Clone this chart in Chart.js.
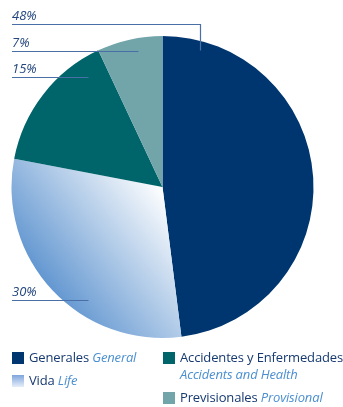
<!DOCTYPE html>
<html>
<head>
<meta charset="utf-8">
<script src="https://cdn.jsdelivr.net/npm/chart.js@4.4.1/dist/chart.umd.min.js"></script>
<style>
  html, body { margin: 0; padding: 0; background: #fff; }
  #wrap { position: relative; width: 343px; height: 407px; font-family: "Open Sans", sans-serif; }
  #wrap canvas { position: absolute; left: 0; top: 0; }
  #legend { position: absolute; left: 0; top: 349px; width: 343px; }
  .col { position: absolute; top: 0; }
  .item { position: relative; padding-left: 17px; line-height: 17px; font-size: 13px; color: #163a70; margin-bottom: 6px; letter-spacing: -0.15px; }
  .item .sw { position: absolute; left: 0; top: 2.5px; width: 12px; height: 12px; }
  .item .es { white-space: nowrap; font-weight: 500; }
  .item em { color: #4b8fd0; white-space: nowrap; }
</style>
</head>
<body>
<div id="wrap">
  <canvas id="pieChart" width="343" height="407"></canvas>
  <div id="legend"></div>
</div>
<script>
const categories = ['Generales', 'Vida', 'Accidentes y Enfermedades', 'Previsionales'];
const categoriesEn = ['General', 'Life', 'Accidents and Health', 'Provisional'];
const shares = [48, 30, 15, 7];
const sliceColors = ['#00366f', 'gradient', '#00656a', '#72a5aa'];

// where each leader line meets its slice: degrees clockwise from 12 o'clock, fraction of radius
const labelAngles = [15.3, 213.4, 325.9, 349.8];
const labelRadius = [0.94, 0.90, 0.88, 0.915];
const labelElbow = [true, false, false, false];

// legend layout: which categories go in each column, and column x
const legendColumns = [[0, 1], [2, 3]];
const legendColumnX = [12, 163];

// "Vida" gets a diagonal blue-to-white fade
function vidaGradient(chart) {
    const {ctx, chartArea} = chart;
    if (!chartArea) return '#8fb3e0';
    const cx = (chartArea.left + chartArea.right) / 2;
    const cy = (chartArea.top + chartArea.bottom) / 2;
    const r = Math.min(chartArea.right - chartArea.left, chartArea.bottom - chartArea.top) / 2;
    const g = ctx.createLinearGradient(cx - 0.98 * r, cy + 0.75 * r, cx, cy);
    g.addColorStop(0, '#3f7fc6');
    g.addColorStop(1, '#ffffff');
    return g;
}

const leaderLines = {
    id: 'leaderLines',
    afterDatasetsDraw(chart) {
        const arc = chart.getDatasetMeta(0).data[0];
        const {x, y, outerRadius} = arc;
        const ctx = chart.ctx;
        ctx.save();
        ctx.strokeStyle = '#4a6fa6';
        ctx.lineWidth = 1.2;
        ctx.font = 'italic 13px "Open Sans"';
        ctx.fillStyle = '#24467f';
        ctx.textBaseline = 'alphabetic';
        shares.forEach((value, i) => {
            const a = labelAngles[i] * Math.PI / 180;
            const px = Math.round(x + Math.sin(a) * outerRadius * labelRadius[i]) + 0.5;
            const py = Math.round(y - Math.cos(a) * outerRadius * labelRadius[i]) + 0.5;
            const lineY = labelElbow[i] ? Math.round(y - outerRadius - 12) + 0.5 : py;
            ctx.beginPath();
            ctx.moveTo(12, lineY);
            ctx.lineTo(px, lineY);
            if (labelElbow[i]) ctx.lineTo(px, py);
            ctx.stroke();
            ctx.fillText(value + '%', 12, lineY - 5);
        });
        ctx.restore();
    }
};

const ctx = document.getElementById('pieChart').getContext('2d');
const chart = new Chart(ctx, {
    type: 'pie',
    data: {
        labels: categories,
        datasets: [{
            data: shares,
            backgroundColor: (c) => {
                const col = sliceColors[c.dataIndex];
                return col === 'gradient' ? vidaGradient(c.chart) : col;
            },
            borderWidth: 0
        }]
    },
    options: {
        responsive: false,
        animation: false,
        layout: { padding: { left: 11, right: 29, top: 36, bottom: 69 } },
        plugins: {
            legend: { display: false },
            tooltip: { enabled: false }
        }
    },
    plugins: [leaderLines]
});

// build the two-column bilingual legend
const legendDiv = document.getElementById('legend');
legendColumns.forEach((idxs, c) => {
    const col = document.createElement('div');
    col.className = 'col';
    col.style.left = legendColumnX[c] + 'px';
    idxs.forEach(i => {
        const item = document.createElement('div');
        item.className = 'item';
        const sw = document.createElement('span');
        sw.className = 'sw';
        sw.style.background = sliceColors[i] === 'gradient'
            ? 'linear-gradient(to bottom, #7fa5dc, #e6eef9)'
            : sliceColors[i];
        item.appendChild(sw);
        const es = document.createElement('span');
        es.className = 'es';
        es.textContent = categories[i];
        item.appendChild(es);
        item.appendChild(document.createTextNode(' '));
        const en = document.createElement('em');
        en.textContent = categoriesEn[i];
        item.appendChild(en);
        col.appendChild(item);
    });
    col.style.width = (343 - legendColumnX[c]) + 'px';
    legendDiv.appendChild(col);
});
</script>
</body>
</html>
